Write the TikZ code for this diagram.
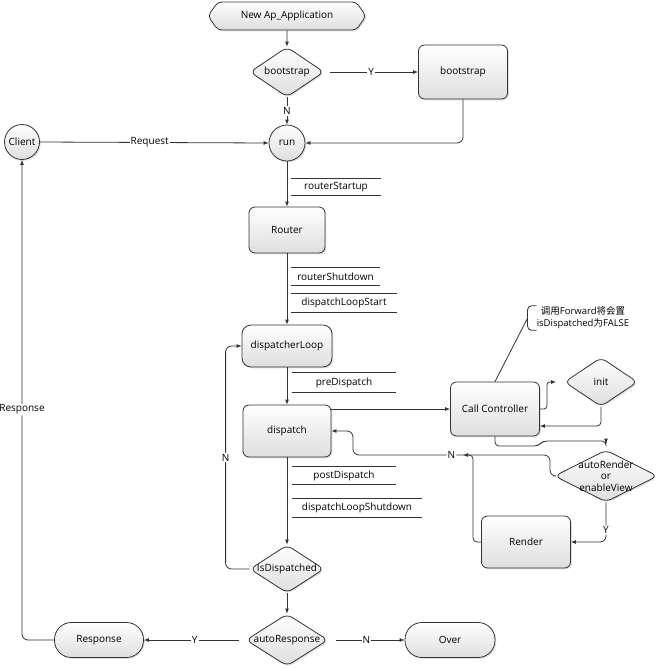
\documentclass[tikz,border=0pt]{standalone}
\usepackage{fontspec}
\setmainfont{Open Sans}
\newfontfamily\cjkfont{Noto Sans CJK SC}
\usetikzlibrary{arrows.meta,shapes.geometric,shapes.symbols,shadows}
\begin{document}
\begin{tikzpicture}[x=1pt,y=-1pt,
  font=\fontsize{10}{12}\selectfont,
  line/.style={draw=black!80, line width=0.8pt},
  arr/.style={line, -{Latex[length=5pt,width=4pt]}},
  base/.style={draw=black!80, line width=0.8pt, top color=white, bottom color=black!13,
    drop shadow={shadow xshift=1.3pt, shadow yshift=-1.3pt, opacity=0.25}, inner sep=1pt, align=center},
  box/.style={base, rectangle, rounded corners=6pt},
  dec/.style={base, diamond, rounded corners=6pt, inner sep=0pt},
  circ/.style={base, circle},
  stad/.style={base, rectangle, rounded corners=17pt, minimum width=89pt, minimum height=35pt},
  lbl/.style={fill=white, inner sep=1pt},
  anno/.style={inner sep=0pt}
]
\useasboundingbox (0,0) rectangle (658,670);

% nodes
\node[base, shape=signal, signal to=west and east, signal pointer angle=110, rounded corners=4pt,
      minimum width=158pt, minimum height=28pt] (start) at (287,16) {New Ap\_Application};
\node[dec, minimum width=74pt, minimum height=50pt, label=center:bootstrap] (d1) at (287,72) {};
\node[box, minimum width=89pt, minimum height=54pt] (b1) at (463,72) {bootstrap};
\node[circ, minimum size=36pt] (run) at (287,143) {run};
\node[circ, minimum size=35pt] (client) at (22,142) {Client};
\node[box, minimum width=76pt, minimum height=46pt] (router) at (287,230) {Router};
\node[box, minimum width=90pt, minimum height=42pt, rounded corners=9pt] (loop) at (287,346) {dispatcherLoop};
\node[box, minimum width=88pt, minimum height=52pt] (disp) at (287,431) {dispatch};
\node[dec, minimum width=74pt, minimum height=48pt, label=center:IsDispatched] (isd) at (287,569) {};
\node[dec, minimum width=82pt, minimum height=52pt, label=center:autoResponse] (ares) at (287,640) {};
\node[stad] (resp) at (99,640) {Response};
\node[stad, minimum width=90pt] (over) at (450,640) {Over};
\node[box, minimum width=89pt, minimum height=54pt] (cc) at (495,409) {Call Controller};
\node[dec, minimum width=73pt, minimum height=49pt, label=center:init] (init) at (601,382) {};
\node[dec, minimum width=103pt, minimum height=52pt,
      label={[align=center, font=\fontsize{10}{11.5}\selectfont]center:autoRender\\or\\enableView}] (ar) at (606,476) {};
\node[box, minimum width=89pt, minimum height=52pt] (render) at (526,542) {Render};
\node[align=center, inner xsep=3pt, inner ysep=1pt, font=\fontsize{9.5}{12}\selectfont] (note) at (583,318)
  {{\cjkfont 调用}Forward{\cjkfont 将会置}\\isDispatched{\cjkfont 为}FALSE};

% annotations
\node[anno, minimum width=90pt, minimum height=16pt] (a1) at (336,187) {routerStartup};
\node[anno, minimum width=89pt, minimum height=17pt] (a2) at (335.5,276.5) {routerShutdown};
\node[anno, minimum width=106pt, minimum height=18pt] (a3) at (344,303) {dispatchLoopStart};
\node[anno, minimum width=104pt, minimum height=19pt] (a4) at (344,382.5) {preDispatch};
\node[anno, minimum width=104pt, minimum height=17pt] (a5) at (344,475.5) {postDispatch};
\node[anno, minimum width=130pt, minimum height=18pt] (a6) at (357,508) {dispatchLoopShutdown};
\foreach \n in {a1,a2,a3,a4,a5,a6}
  \draw[line] (\n.north west) -- (\n.north east) (\n.south west) -- (\n.south east);

% note bracket
\draw[line, rounded corners=4pt] ([xshift=3pt]note.north west) -- ([xshift=-6pt]note.north west)
  -- ([xshift=-6pt]note.south west) -- ([xshift=3pt]note.south west);
\draw[line] (cc.north) -- ([xshift=-6pt]note.west);

% connectors
\draw[arr] (start) -- (d1);
\draw[arr, shorten <=6pt] (d1.east) -- node[lbl]{Y} (b1.west);
\draw[arr] (d1.south) -- node[lbl]{N} (run.north);
\draw[arr, rounded corners=6pt] (b1.south) |- (run.east);
\draw[arr] (client.east) -- node[lbl, pos=0.48]{Request} (run.west);
\draw[arr] (run) -- (router);
\draw[arr] (router) -- (loop);
\draw[arr] (loop) -- (disp);
\draw[arr] ([yshift=22pt]disp.east) -- (cc.west);
\draw[arr] (disp) -- (isd);
\draw[arr, rounded corners=6pt] (isd.west) -| node[lbl, pos=0.75]{N} ([xshift=-16pt]loop.west) -- (loop.west);
\draw[arr] (isd) -- (ares);
\draw[arr, shorten <=7pt] (ares.west) -- node[lbl]{Y} (resp.east);
\draw[arr, shorten <=8pt] (ares.east) -- node[lbl]{N} (over.west);
\draw[arr, rounded corners=6pt] (resp.west) -| node[lbl, pos=0.74]{Response} (client.south);

\draw[arr, rounded corners=3pt, shorten >=8pt] (cc.east) -- ++(7,0) |- (init.west);
\draw[arr, rounded corners=4pt] (init.south) |- ([yshift=-17pt]cc.east);
\draw[arr, rounded corners=4pt, shorten >=6pt] (cc.south) |- (538,446) -- (543,441) -| (ar.north);
\draw[arr, rounded corners=6pt] (ar.west) -| (550,455) -- node[lbl, pos=0.5]{N} (353,455) |- (disp.east);
\draw[arr, rounded corners=4pt] (render.west) -| (473,455) -- (463,455);
\draw[arr, rounded corners=6pt] (ar.south) |- node[lbl, pos=0.35]{Y} (render.east);
\end{tikzpicture}
\end{document}
